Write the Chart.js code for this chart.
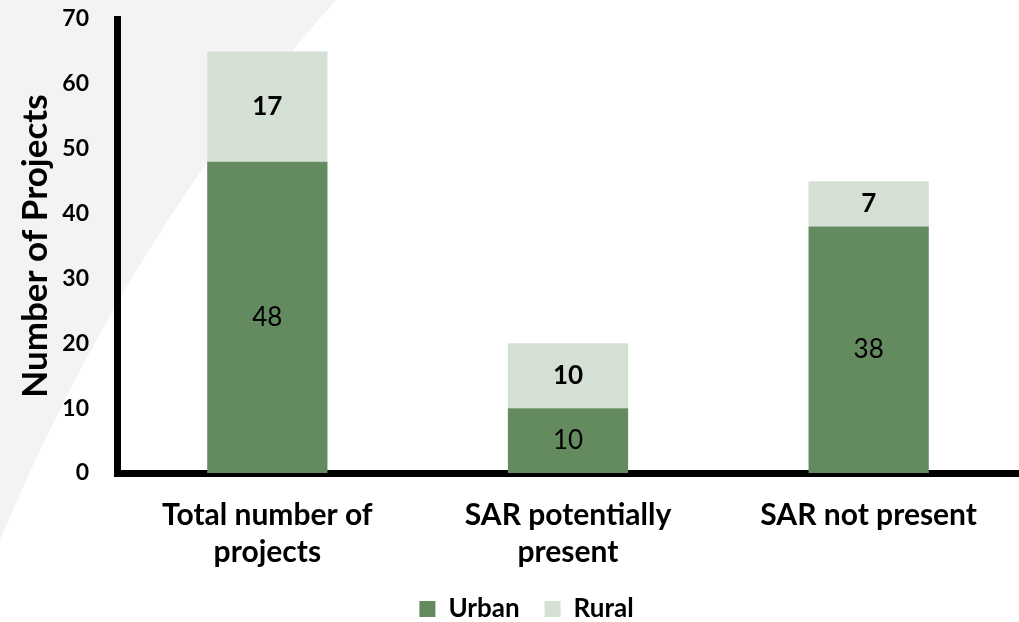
<!DOCTYPE html>
<html>
<head>
<meta charset="utf-8">
<script src="https://cdn.jsdelivr.net/npm/chart.js@4"></script>
<style>
  html, body { margin: 0; padding: 0; background: #ffffff; }
  #wrap { width: 1019px; height: 622px; }
</style>
</head>
<body>
<div id="wrap"><canvas id="myChart"></canvas></div>
<script>
const categories = [['Total number of', 'projects'], ['SAR potentially', 'present'], ['SAR not present']]
const urban = [48, 10, 38]
const rural = [17, 10, 7]
const yTicks = [0, 10, 20, 30, 40, 50, 60, 70]

const fontName = 'Lato'

// light grey shape in the background
const backdrop = {
  id: 'backdrop',
  beforeDraw(chart) {
    const c = chart.ctx
    c.save()
    c.fillStyle = '#ffffff'
    c.fillRect(0, 0, chart.width, chart.height)
    c.fillStyle = '#f3f3f3'
    c.beginPath()
    c.moveTo(0, 0)
    c.lineTo(336, 0)
    c.quadraticCurveTo(130, 230, 0, 540)
    c.closePath()
    c.fill()
    c.restore()
  }
}

// value labels inside each segment
const segLabels = {
  id: 'segLabels',
  afterDatasetsDraw(chart) {
    const c = chart.ctx
    c.save()
    c.textAlign = 'center'
    c.textBaseline = 'middle'
    c.fillStyle = '#000000'
    chart.data.datasets.forEach((ds, i) => {
      c.font = (i === 1 ? 'bold ' : '') + '26px ' + fontName
      chart.getDatasetMeta(i).data.forEach((bar, j) => {
        const p = bar.getProps(['x', 'y', 'base'], true)
        c.fillText(String(ds.data[j]), p.x, (p.y + p.base) / 2)
      })
    })
    c.restore()
  }
}

const ctx = document.getElementById('myChart')

const myChart = new Chart(ctx, {
  type: 'bar',
  data: {
    labels: categories,
    datasets: [
      { label: 'Urban', data: urban, backgroundColor: '#638b5f' },
      { label: 'Rural', data: rural, backgroundColor: '#d4e0d4' }
    ]
  },
  options: {
    responsive: true,
    maintainAspectRatio: false,
    animation: false,
    barPercentage: 1,
    categoryPercentage: 0.4,
    layout: { padding: { left: 34, right: 0, top: 19, bottom: -10 } },
    scales: {
      x: {
        stacked: true,
        afterFit(scale) {
          scale.height = 98
        },
        grid: { display: false },
        border: { display: true, color: '#000000', width: 7 },
        ticks: {
          color: '#000000',
          padding: 16,
          maxRotation: 0,
          font: { family: fontName, size: 30, weight: 'bold', lineHeight: 1.233 }
        }
      },
      y: {
        stacked: true,
        min: 0,
        max: 70,
        afterBuildTicks(scale) {
          scale.ticks = yTicks.map(v => ({ value: v }))
        },
        afterFit(scale) {
          scale.width = 83
          scale.paddingTop = 0
          scale.paddingBottom = 0
        },
        grid: { display: false },
        border: { display: true, color: '#000000', width: 7 },
        ticks: {
          color: '#000000',
          padding: 20,
          font: { family: fontName, size: 23, weight: 'bold' }
        },
        title: {
          display: true,
          text: 'Number of Projects',
          color: '#000000',
          padding: { top: -16, bottom: 0 },
          font: { family: fontName, size: 35, weight: 'bold', lineHeight: 1 }
        }
      }
    },
    plugins: {
      legend: {
        position: 'bottom',
        labels: {
          color: '#000000',
          boxWidth: 16,
          boxHeight: 16,
          padding: 25,
          font: { family: fontName, size: 26, weight: 'bold' }
        }
      },
      tooltip: { enabled: false }
    }
  },
  plugins: [backdrop, segLabels]
})
</script>
</body>
</html>
